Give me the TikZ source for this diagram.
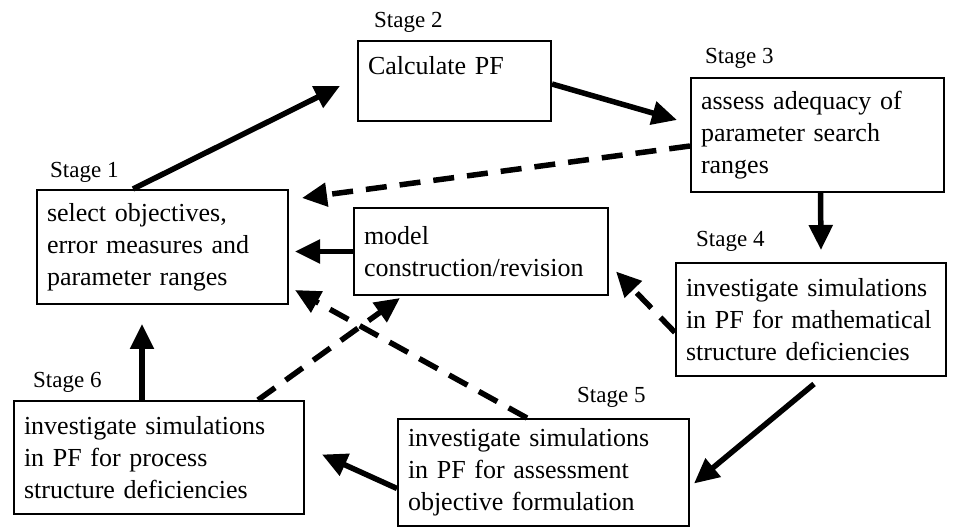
\documentclass[tikz,border=0pt]{standalone}
\usepackage{fontspec}
\setmainfont{Liberation Serif}
\usetikzlibrary{arrows.meta,calc}
\begin{document}
\begin{tikzpicture}[x=1pt,y=-1pt,
  box/.style={draw, line width=2pt, anchor=north west, inner xsep=10pt, inner ysep=0pt, align=left, font=\fontsize{26}{32}\selectfont},
  stg/.style={anchor=base west, inner sep=0pt, font=\fontsize{23}{28}\selectfont},
  arr/.style={line width=5.5pt, -{Triangle[length=25pt,width=23pt]}},
  darr/.style={arr, dash pattern=on 21pt off 13pt}]
\useasboundingbox (0,0) rectangle (954,529);
% boxes
\node[box, text width=231pt, minimum height=114pt] (b1) at (36,189) {select objectives,\\error measures and\\parameter ranges};
\node[box, text width=173pt, minimum height=80pt] (b2) at (357,40) {Calculate PF\\\mbox{}};
\node[box, text width=233pt, minimum height=114pt] (b3) at (690,77) {assess adequacy of\\parameter search\\ranges};
\node[box, text width=250pt, minimum height=113pt] (b4) at (675,262) {investigate simulations\\in PF for mathematical\\structure deficiencies};
\node[box, text width=271pt, minimum height=107pt] (b5) at (397,418) {investigate simulations\\in PF for assessment\\objective formulation};
\node[box, text width=270pt, minimum height=113pt] (b6) at (13,400) {investigate simulations\\in PF for process\\structure deficiencies};
\node[box, text width=234pt, minimum height=87pt] (bm) at (353,207) {model\\construction/revision};
% stage labels
\node[stg] (s1) at (50,178) {Stage 1};
\node[stg] (s2) at (374,28) {Stage 2};
\node[stg] (s3) at (705,64) {Stage 3};
\node[stg] (s4) at (696,247) {Stage 4};
\node[stg] (s5) at (577,403) {Stage 5};
\node[stg] (s6) at (33,388) {Stage 6};
% solid arrows
\draw[arr] ([xshift=97pt]b1.north west) -- ([xshift=-17pt,yshift=-5pt]b2.west);
\draw[arr] ([yshift=-3pt]b2.east) -- ([xshift=-13pt,yshift=-43pt]b3.north west);
\draw[arr] ([xshift=3pt]b3.south) -- ([xshift=10pt,yshift=12pt]b4.north);
\draw[arr] (bm.west) -- ($(bm.west -| b1.east)+(6,0)$);
\draw[arr] ([xshift=3pt,yshift=-7pt]b4.south) -- ([xshift=4pt,yshift=-11pt]b5.east);
\draw[arr] ([yshift=-16pt]b5.west) -- ([xshift=17pt,yshift=3pt]b6.east);
\draw[arr] ([xshift=129pt]b6.north west) -- ([xshift=106pt,yshift=-19pt]b1.south west);
% dashed arrows
\draw[darr] ([yshift=-11pt]b3.west) -- ([xshift=13pt,yshift=-9pt]b1.north east);
\draw[darr] ([yshift=-13pt]b4.west) -- ([xshift=7pt,yshift=-20pt]bm.east);
\draw[darr] ([xshift=245pt]b6.north west) -- ([xshift=47pt,yshift=-2pt]bm.south west);
\draw[darr] ([xshift=130pt]b5.north west) -- ([xshift=6pt,yshift=15pt]b1.south east);
\end{tikzpicture}
\end{document}
